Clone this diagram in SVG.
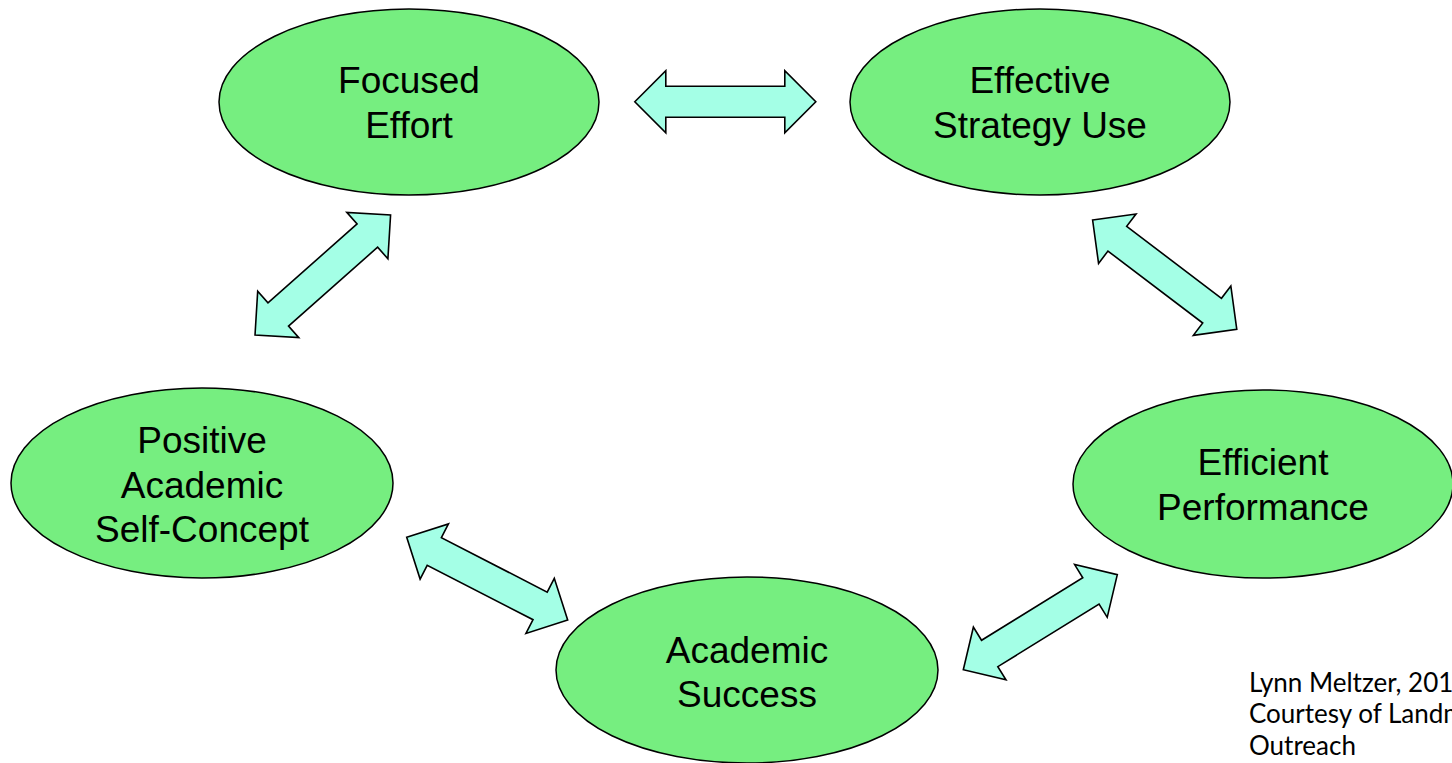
<svg xmlns="http://www.w3.org/2000/svg" width="1452" height="763" viewBox="0 0 1452 763">
<defs>
<style>
.node{fill:#76EE80;stroke:#000;stroke-width:1.5}
.lbl{font-family:"Liberation Sans",Arial,sans-serif;font-size:37px;fill:#000;text-anchor:middle}
.arr{fill:#A4FFE6;stroke:#000;stroke-width:1.6;stroke-linejoin:miter}
.foot{font-family:Lato,"Noto Sans",sans-serif;font-size:26px;fill:#000}
</style>
<path id="dbl" d="M-90.5,0 L-59.5,-31 L-59.5,-15.5 L59.5,-15.5 L59.5,-31 L90.5,0 L59.5,31 L59.5,15.5 L-59.5,15.5 L-59.5,31 Z"/>
</defs>
<rect width="1452" height="763" fill="#fff"/>
<g id="connectors">
<use href="#dbl" class="arr" transform="translate(725.3,101.7)"/>
<use href="#dbl" class="arr" transform="translate(322.8,275) rotate(-41.5)"/>
<use href="#dbl" class="arr" transform="translate(1164.7,274.7) rotate(37.2)"/>
<use href="#dbl" class="arr" transform="translate(487.2,578.7) rotate(27.2)"/>
<use href="#dbl" class="arr" transform="translate(1040.3,622.2) rotate(-31.7)"/>
</g>
<g id="focused-effort">
<ellipse class="node" cx="409" cy="102" rx="190" ry="93"/>
<text class="lbl" x="409" y="93">Focused</text>
<text class="lbl" x="409" y="138">Effort</text>
</g>
<g id="effective-strategy-use">
<ellipse class="node" cx="1040" cy="102" rx="190" ry="93"/>
<text class="lbl" x="1040" y="93">Effective</text>
<text class="lbl" x="1040" y="138">Strategy Use</text>
</g>
<g id="positive-academic-self-concept">
<ellipse class="node" cx="202" cy="483" rx="191" ry="95"/>
<text class="lbl" x="202" y="453">Positive</text>
<text class="lbl" x="202" y="498">Academic</text>
<text class="lbl" x="202" y="542">Self-Concept</text>
</g>
<g id="efficient-performance">
<ellipse class="node" cx="1263" cy="484" rx="190" ry="94"/>
<text class="lbl" x="1263" y="475">Efficient</text>
<text class="lbl" x="1263" y="520">Performance</text>
</g>
<g id="academic-success">
<ellipse class="node" cx="747" cy="670" rx="191" ry="93"/>
<text class="lbl" x="747" y="663">Academic</text>
<text class="lbl" x="747" y="707">Success</text>
</g>
<g id="credit">
<text class="foot" x="1249" y="692">Lynn Meltzer, 2010</text>
<text class="foot" x="1249" y="723">Courtesy of Landmark</text>
<text class="foot" x="1249" y="755">Outreach</text>
</g>
</svg>
